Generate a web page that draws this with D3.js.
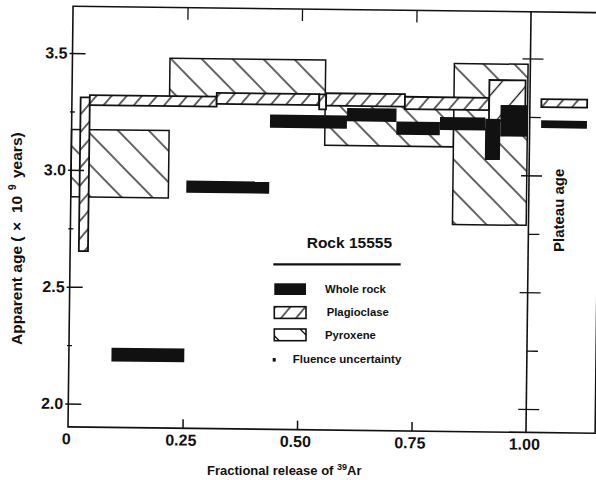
<!DOCTYPE html>
<html>
<head>
<meta charset="utf-8">
<script src="https://cdn.jsdelivr.net/npm/d3@7"></script>
<style>
  html, body { margin: 0; padding: 0; background: #fff; }
  svg { display: block; }
  text { font-family: "Liberation Sans", Arial, Helvetica, sans-serif; font-weight: bold; fill: #111; }
</style>
</head>
<body>
<svg id="chart" width="596" height="480"></svg>
<script>
// Rock 15555: 40Ar/39Ar age spectra.
// Each step is [release start, release end, age low, age high]
// (fraction of 39Ar released, age in 10^9 years).
const wholeRockSteps = [
  [0.093, 0.252, 2.182, 2.241],
  [0.252, 0.433, 2.908, 2.960],
  [0.433, 0.601, 3.190, 3.247],
  [0.601, 0.709, 3.222, 3.279],
  [0.709, 0.804, 3.167, 3.224],
  [0.804, 0.903, 3.190, 3.245],
  [0.903, 0.936, 3.064, 3.240],
  [0.936, 0.996, 3.165, 3.300]
];
const plagioclaseSteps = [
  [0.019, 0.039, 2.653, 3.311],
  [0.039, 0.316, 3.278, 3.321],
  [0.316, 0.540, 3.290, 3.337],
  [0.540, 0.555, 3.272, 3.336],
  [0.555, 0.727, 3.288, 3.341],
  [0.727, 0.911, 3.277, 3.330],
  [0.911, 0.990, 3.231, 3.406]
];
const pyroxeneSteps = [
  [0.000, 0.213, 2.885, 3.173],
  [0.213, 0.553, 3.300, 3.483],
  [0.553, 0.834, 3.118, 3.300],
  [0.834, 0.995, 2.786, 3.475]
];
// Plateau ages, drawn in the side panel to the right of release = 1
const plateauWholeRock = [1.025, 1.125, 3.203, 3.236];
const plateauPlagioclase = [1.025, 1.125, 3.293, 3.327];

const xTickValues = [0, 0.25, 0.5, 0.75, 1.0];
const xTickLabels = ["0", "0.25", "0.50", "0.75", "1.00"];
const yTickValues = [2.0, 2.5, 3.0, 3.5];
const yTickLabels = ["2.0", "2.5", "3.0", "3.5"];
const yMinorTicks = [2.25, 2.75, 3.25];
const xDomainEnd = 1.151;     // right edge of the plateau panel
const yDomain = [1.90, 3.70]; // bottom and top of the frame

const legendTitle = "Rock 15555";
const legendLabels = ["Whole rock", "Plagioclase", "Pyroxene", "Fluence uncertainty"];

const svg = d3.select("#chart");
const ink = "#111";

// ---- hatch patterns ----
const defs = svg.append("defs");
function hatch(id, spacing, angle, width) {
  const p = defs.append("pattern")
    .attr("id", id)
    .attr("patternUnits", "userSpaceOnUse")
    .attr("width", spacing).attr("height", spacing)
    .attr("patternTransform", `rotate(${angle})`);
  p.append("rect").attr("width", spacing).attr("height", spacing).attr("fill", "#fff");
  p.append("line")
    .attr("x1", spacing / 2).attr("x2", spacing / 2)
    .attr("y1", 0).attr("y2", spacing)
    .attr("stroke", ink).attr("stroke-width", width);
}
hatch("hatch-pyroxene", 22, -45, 1.3);
hatch("hatch-plag", 11.5, 40, 1.3);
hatch("hatch-plag-wide", 21, 40, 1.3);

// ---- scales ----
const x = d3.scaleLinear().domain([0, 1]).range([68, 526]);
const y = d3.scaleLinear().domain([2.0, 3.5]).range([403.5, 53]);

// the whole plot area sits with a slight clockwise tilt
const plot = svg.append("g").attr("transform", "rotate(0.69,68,427)");

function drawSteps(data, fill, stroke, sw) {
  plot.append("g").selectAll("rect").data(data).join("rect")
    .attr("x", d => x(d[0]))
    .attr("y", d => y(d[3]))
    .attr("width", d => x(d[1]) - x(d[0]))
    .attr("height", d => y(d[2]) - y(d[3]))
    .attr("fill", fill)
    .attr("stroke", stroke)
    .attr("stroke-width", sw);
}

// pyroxene underneath, plagioclase over it, whole rock on top
drawSteps(pyroxeneSteps, "url(#hatch-pyroxene)", ink, 1.5);
drawSteps(plagioclaseSteps,
  d => (d[1] - d[0] > 0.05 && d[3] - d[2] > 0.1) ? "url(#hatch-plag-wide)" : "url(#hatch-plag)",
  ink, 1.8);
drawSteps(wholeRockSteps, ink, "none", 0);

// plateau panel
drawSteps([plateauPlagioclase], "url(#hatch-plag)", ink, 1.8);
drawSteps([plateauWholeRock], ink, "none", 0);

// ---- frame ----
const frame = plot.append("g").attr("fill", "none").attr("stroke", ink).attr("stroke-width", 1.6);
frame.append("path").attr("d",
  `M${x(0)},${y(yDomain[1])}H${x(xDomainEnd)}V${y(yDomain[0])}H${x(0)}Z`);
frame.append("line")
  .attr("x1", x(1)).attr("x2", x(1))
  .attr("y1", y(yDomain[0])).attr("y2", y(yDomain[1]));

// ---- left axis ----
const yAxis = plot.append("g")
  .attr("transform", `translate(${x(0)},0)`)
  .call(d3.axisLeft(y).tickValues(yTickValues)
    .tickFormat((d, i) => yTickLabels[i]).tickSize(3).tickPadding(5));
yAxis.select(".domain").remove();
yAxis.selectAll(".tick line").attr("x1", 13).attr("x2", -3)
  .attr("stroke", ink).attr("stroke-width", 1.5);
yAxis.selectAll(".tick text").attr("x", -5).attr("font-size", 16).attr("fill", ink);

const yMinor = plot.append("g")
  .attr("transform", `translate(${x(0)},0)`)
  .call(d3.axisLeft(y).tickValues(yMinorTicks).tickFormat("").tickSize(2));
yMinor.select(".domain").remove();
yMinor.selectAll(".tick line").attr("x1", 3).attr("x2", -2)
  .attr("stroke", ink).attr("stroke-width", 1.3);

// ---- ticks on the release = 1 line ----
const rAxis = plot.append("g")
  .attr("transform", `translate(${x(1)},0)`)
  .call(d3.axisRight(y).tickValues(yTickValues).tickFormat("").tickSize(13));
rAxis.select(".domain").remove();
rAxis.selectAll(".tick line").attr("x1", -8).attr("x2", 13)
  .attr("stroke", ink).attr("stroke-width", 1.3);

const rMinor = plot.append("g")
  .attr("transform", `translate(${x(1)},0)`)
  .call(d3.axisRight(y).tickValues(yMinorTicks).tickFormat("").tickSize(11));
rMinor.select(".domain").remove();
rMinor.selectAll(".tick line").attr("stroke", ink).attr("stroke-width", 1.3);

// ---- bottom axis ----
const xAxis = plot.append("g")
  .attr("transform", `translate(0,${y(yDomain[0])})`)
  .call(d3.axisBottom(x).tickValues(xTickValues)
    .tickFormat((d, i) => xTickLabels[i]).tickSize(0));
xAxis.select(".domain").remove();
xAxis.selectAll(".tick line")
  .attr("y1", 0)
  .attr("y2", d => (d > 0 && d < 1) ? -9 : 0)
  .attr("stroke", ink).attr("stroke-width", 1.5);
xAxis.selectAll(".tick text")
  .attr("x", -2).attr("y", 6).attr("dy", "0.71em")
  .attr("font-size", 16).attr("fill", ink);

// ---- top ticks ----
const tAxis = plot.append("g")
  .attr("transform", `translate(0,${y(yDomain[1])})`)
  .call(d3.axisTop(x).tickValues(xTickValues.filter(d => d > 0 && d < 1))
    .tickFormat("").tickSize(-12));
tAxis.select(".domain").remove();
tAxis.selectAll(".tick line").attr("stroke", ink).attr("stroke-width", 1.3);

// ---- axis titles ----
const yTitle = svg.append("text")
  .attr("transform", "translate(21.5,345) rotate(-90)")
  .attr("font-size", 15.5);
yTitle.append("tspan").attr("x", 0).text("Apparent age (");
yTitle.append("tspan").attr("x", 114).text("\u00d7");
yTitle.append("tspan").attr("x", 132).text("10");
yTitle.append("tspan").attr("x", 155).attr("dy", -6).attr("font-size", 10).text("9");
yTitle.append("tspan").attr("x", 167).attr("dy", 6).text("years)");

const xTitle = svg.append("text")
  .attr("x", 207).attr("y", 475)
  .attr("font-size", 13);
xTitle.append("tspan").text("Fractional release of ");
xTitle.append("tspan").attr("dy", -5).attr("font-size", 9).text("39");
xTitle.append("tspan").attr("dy", 5).text("Ar");

svg.append("text")
  .attr("transform", "translate(563.5,252) rotate(-90)")
  .attr("font-size", 15)
  .text("Plateau age");

// ---- legend ----
const legend = svg.append("g");
legend.append("text").attr("x", 306.7).attr("y", 248.3).attr("font-size", 15.5).text(legendTitle);
legend.append("line")
  .attr("x1", 273.3).attr("x2", 400.7).attr("y1", 264.3).attr("y2", 264.3)
  .attr("stroke", ink).attr("stroke-width", 2.2);

const swX = 274.3, swW = 31.7, swH = 11.7;
const swatchY = [283.3, 306.7, 329];
// whole rock key
legend.append("rect").attr("x", swX).attr("y", swatchY[0])
  .attr("width", swW).attr("height", swH).attr("fill", ink);
// plagioclase key
legend.append("rect").attr("x", swX).attr("y", swatchY[1])
  .attr("width", swW).attr("height", swH)
  .attr("fill", "url(#hatch-plag)").attr("stroke", ink).attr("stroke-width", 1.6);
// pyroxene key: open box whose wide hatch only clips two corners
const py0 = swatchY[2];
legend.append("rect").attr("x", swX).attr("y", py0)
  .attr("width", swW).attr("height", swH)
  .attr("fill", "#fff").attr("stroke", ink).attr("stroke-width", 1.6);
legend.append("path")
  .attr("d", `M${swX},${py0 + swH - 5}L${swX + 5},${py0 + swH}` +
             `M${swX + swW - 6},${py0}L${swX + swW},${py0 + 6}`)
  .attr("stroke", ink).attr("stroke-width", 1.3).attr("fill", "none");
// fluence uncertainty marker
legend.append("rect")
  .attr("x", 272.7).attr("y", 358).attr("width", 3).attr("height", 3.6).attr("fill", ink);

const labelX = [325, 326.7, 325, 292.7];
const labelY = [293, 315.5, 338.8, 363];
legendLabels.forEach((t, i) => {
  legend.append("text")
    .attr("x", labelX[i]).attr("y", labelY[i])
    .attr("font-size", i === 3 ? 11.5 : 11.3)
    .text(t);
});
</script>
</body>
</html>
